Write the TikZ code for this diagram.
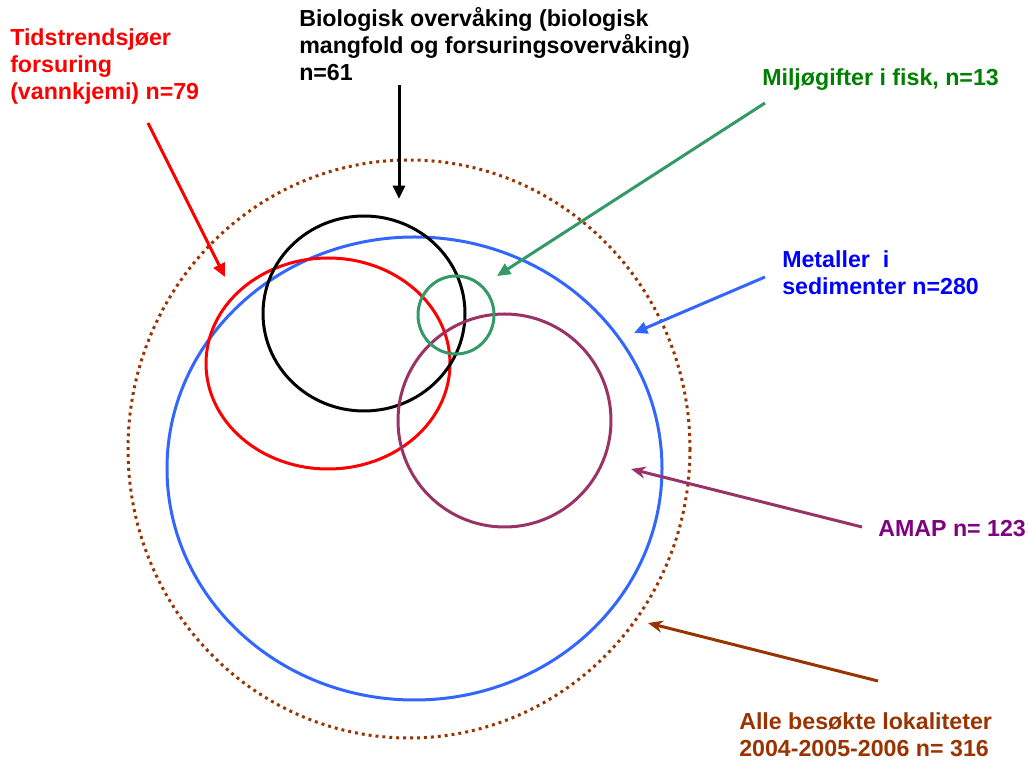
\documentclass[tikz,border=0pt]{standalone}
\usepackage{fontspec}
\setmainfont{Liberation Sans}
\usetikzlibrary{arrows.meta}
\definecolor{cred}{RGB}{255,0,0}
\definecolor{cgreenl}{RGB}{51,153,102}
\definecolor{cgreent}{RGB}{0,128,0}
\definecolor{cbluel}{RGB}{51,102,255}
\definecolor{cbluet}{RGB}{0,0,255}
\definecolor{cpurpl}{RGB}{153,51,102}
\definecolor{cpurpt}{RGB}{128,0,128}
\definecolor{cbrown}{RGB}{153,51,0}
\tikzset{
  lbl/.style={anchor=base west, align=left, inner sep=0pt, font=\bfseries\fontsize{17.4}{20.4}\selectfont},
  ring/.style={line width=2.25pt},
  arr/.style={line width=2.25pt, -{Triangle[length=10pt,width=9pt]}},
  sarr/.style={line width=2.25pt, -{Stealth[length=11pt,width=9pt]}}
}
\begin{document}
\begin{tikzpicture}[x=0.75pt,y=-0.75pt]
\useasboundingbox (0,0) rectangle (1029,762);
% shapes
\draw[cbrown, line width=2.25pt, dash pattern=on 2.2pt off 3pt] (409,449) ellipse [x radius=281, y radius=289];
\draw[ring, cbluel] (414.5,468.5) ellipse [x radius=247.5, y radius=231.5];
\draw[ring, cred] (328,363.5) ellipse [x radius=122, y radius=105.5];
\draw[ring, black] (364,313.5) ellipse [x radius=101, y radius=97.5];
\draw[ring, cpurpl] (504.5,420.5) ellipse [x radius=106.5, y radius=106.5];
\draw[ring, cgreenl] (456,315) ellipse [x radius=38, y radius=39];
% labels (anchor = baseline of last line)
\node[lbl, text=cred] (tid) at (10,100) {Tidstrendsjøer\\forsuring\\(vannkjemi) n=79};
\node[lbl, text=black] (bio) at (299,81) {Biologisk overvåking (biologisk\\mangfold og forsuringsovervåking)\\n=61};
\node[lbl, text=cgreent] (mil) at (762,86) {Miljøgifter i fisk, n=13};
\node[lbl, text=cbluet] (met) at (782,295) {Metaller\ \ i\\sedimenter n=280};
\node[lbl, text=cpurpt] (amap) at (878,537) {AMAP n= 123};
\node[lbl, text=cbrown] (alle) at (739,757) {Alle besøkte lokaliteter\\2004-2005-2006 n= 316};
% arrow coordinates
\coordinate (rs) at (148,123); \coordinate (re) at (225,277);
\coordinate (ks) at (399,85);  \coordinate (ke) at (399,199);
\coordinate (gs) at (765,103); \coordinate (ge) at (497,276);
\coordinate (bs) at (765,277); \coordinate (be) at (634,333);
\coordinate (ps) at (862,527); \coordinate (pe) at (631,469);
\coordinate (ns) at (878,681); \coordinate (ne) at (648,623);
\draw[arr, cred] (rs) -- (re);
\draw[arr, black] (ks) -- (ke);
\draw[arr, cgreenl] (gs) -- (ge);
\draw[arr, cbluel] (bs) -- (be);
\draw[sarr, cpurpl] (ps) -- (pe);
\draw[sarr, cbrown] (ns) -- (ne);
\end{tikzpicture}
\end{document}
